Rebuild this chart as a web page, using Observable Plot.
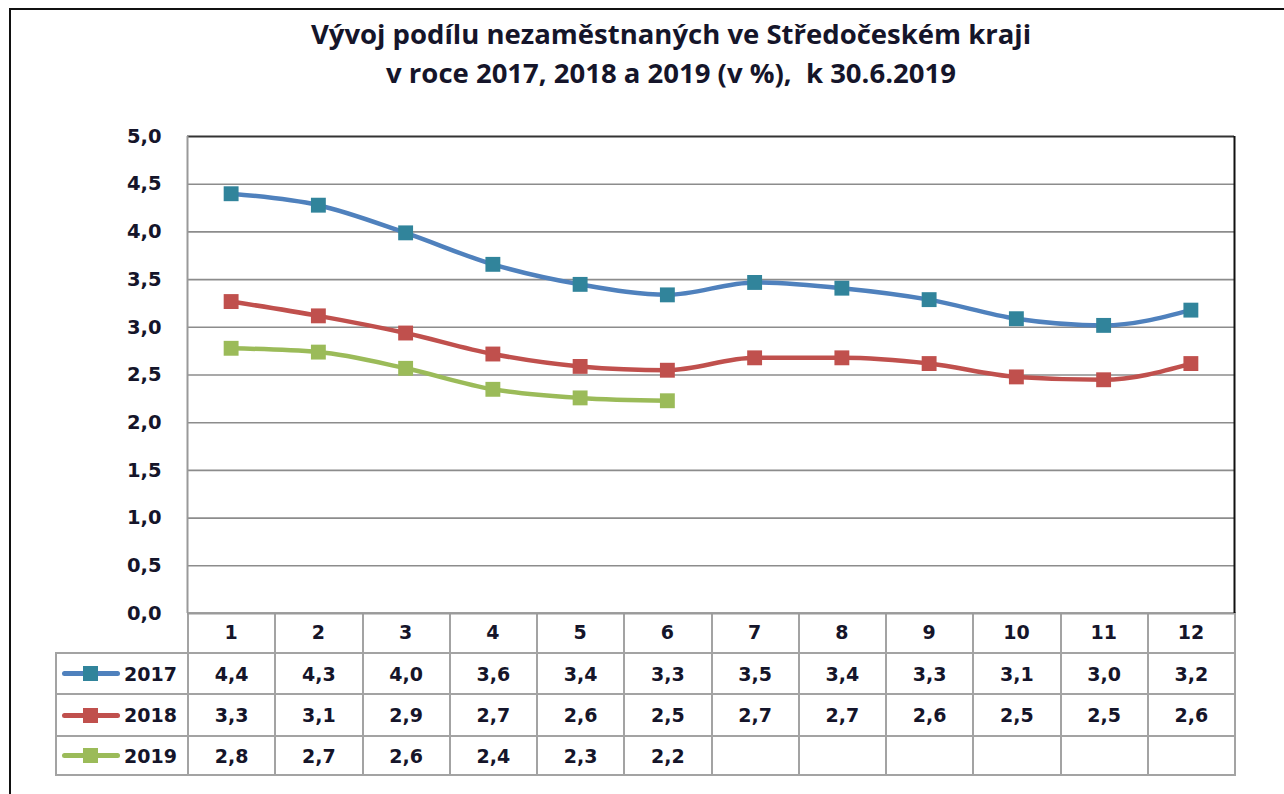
<!DOCTYPE html>
<html>
<head>
<meta charset="utf-8">
<script src="https://cdn.jsdelivr.net/npm/d3@7"></script>
<script src="https://cdn.jsdelivr.net/npm/@observablehq/plot@0.6"></script>
<style>
  body { margin: 0; background: #fff; }
  #wrap { position: relative; width: 1284px; height: 794px; overflow: hidden; background: #fff; }
  #frame { position: absolute; left: 9px; top: 8px; width: 1320px; height: 830px; border: 2.5px solid #111; box-sizing: border-box; }
  #title { position: absolute; left: 0; top: 14px; width: 1342px; text-align: center; white-space: pre;
           font-family: "Open Sans", Lato, sans-serif; font-weight: bold; font-size: 27.5px; line-height: 39px; color: #15152a; }
  #chart { position: absolute; left: 0; top: 0; }
  #tbl { position: absolute; left: 55px; top: 612px; border-collapse: collapse; table-layout: fixed;
         font-family: "DejaVu Sans", sans-serif; font-weight: bold; font-size: 19px; color: #15152a; }
  #tbl td { border: 2px solid #a3a3a3; text-align: center; padding: 0; }
  #tbl tr.head td.corner { border-top: none; border-left: none; }
  .key { display: flex; align-items: center; padding-left: 5px; }
  .sw { position: relative; width: 58px; height: 5px; border-radius: 3px; margin-right: 4px; }
  .sw i { position: absolute; left: 21px; top: -5px; width: 15px; height: 15px; }
</style>
</head>
<body>
<div id="wrap">
  <div id="frame"></div>
  <div id="title"></div>
  <table id="tbl"></table>
  <div id="chart"></div>
</div>
<script>
// ---- data ----
const titleLines = ["Vývoj podílu nezaměstnaných ve Středočeském kraji", "v roce 2017, 2018 a 2019 (v %),  k 30.6.2019"];
const months = [1, 2, 3, 4, 5, 6, 7, 8, 9, 10, 11, 12];
const years = ["2017", "2018", "2019"];
const values2017 = [4.40, 4.28, 3.99, 3.66, 3.45, 3.34, 3.47, 3.41, 3.29, 3.09, 3.02, 3.18];
const values2018 = [3.27, 3.12, 2.94, 2.72, 2.59, 2.55, 2.68, 2.68, 2.62, 2.48, 2.45, 2.62];
const values2019 = [2.78, 2.74, 2.57, 2.35, 2.26, 2.23];
const table2017 = ["4,4", "4,3", "4,0", "3,6", "3,4", "3,3", "3,5", "3,4", "3,3", "3,1", "3,0", "3,2"];
const table2018 = ["3,3", "3,1", "2,9", "2,7", "2,6", "2,5", "2,7", "2,7", "2,6", "2,5", "2,5", "2,6"];
const table2019 = ["2,8", "2,7", "2,6", "2,4", "2,3", "2,2"];
const yTicks = [0, 0.5, 1, 1.5, 2, 2.5, 3, 3.5, 4, 4.5, 5];
const lineColors = ["#4f81bd", "#c0504d", "#9bbb59"];
const markerColors = ["#31849b", "#c0504d", "#9bbb59"];

// ---- build ----
document.getElementById("title").innerHTML = titleLines.map(t => `<div>${t}</div>`).join("");

const seriesValues = [values2017, values2018, values2019];
const data = seriesValues.flatMap((vals, i) =>
  vals.map((v, j) => ({year: years[i], month: months[j], value: v, line: lineColors[i], marker: markerColors[i]})));

const fmt = v => v.toFixed(1).replace(".", ",");

const chart = Plot.plot({
  width: 1284,
  height: 660,
  marginLeft: 187,
  marginRight: 50,
  marginTop: 136,
  marginBottom: 47,
  x: {type: "linear", domain: [0.5, 12.5]},
  y: {domain: [0, 5]},
  style: {background: "transparent", overflow: "visible"},
  marks: [
    Plot.ruleY(yTicks.filter(v => v > 0 && v < 5), {stroke: "#8c8c8c", strokeWidth: 1.6}),
    Plot.ruleY([0], {stroke: "#9a9a9a", strokeWidth: 2}),
    Plot.ruleY([5], {stroke: "#333", strokeWidth: 2}),
    Plot.ruleX([0.5], {stroke: "#999", strokeWidth: 2}),
    Plot.ruleX([12.5], {stroke: "#111", strokeWidth: 2}),
    Plot.line(data, {x: "month", y: "value", z: "year", stroke: "line", strokeWidth: 4.5, curve: "monotone-x"}),
    Plot.dot(data, {x: "month", y: "value", symbol: "square", r: 8.4, fill: "marker", stroke: "none"}),
    Plot.axisY(yTicks, {tickSize: 0, tickPadding: 26, tickFormat: fmt, fontSize: 19.5, fontWeight: "bold",
      fontFamily: "DejaVu Sans", fill: "#15152a", label: null}),
    Plot.axisX(months, {tickSize: 0, tickPadding: 12, tickFormat: d => String(d), fontSize: 19, fontWeight: "bold",
      fontFamily: "DejaVu Sans", fill: "#15152a", label: null})
  ]
});
document.getElementById("chart").appendChild(chart);

// ---- data table ----
const tbl = document.getElementById("tbl");
const colW = (1234 - 187) / 12;
let html = `<colgroup><col style="width:132px">${months.map(() => `<col style="width:${colW}px">`).join("")}</colgroup>`;
html += `<tr class="head" style="height:40px"><td class="corner"></td>${months.map(() => `<td></td>`).join("")}</tr>`;
const tables = [table2017, table2018, table2019];
const rowH = [41, 42, 39];
years.forEach((y, i) => {
  html += `<tr style="height:${rowH[i]}px"><td><div class="key"><span class="sw" style="background:${lineColors[i]}"><i style="background:${markerColors[i]}"></i></span>${y}</div></td>` +
    months.map((m, j) => `<td>${tables[i][j] ?? ""}</td>`).join("") + `</tr>`;
});
tbl.innerHTML = html;
</script>
</body>
</html>
